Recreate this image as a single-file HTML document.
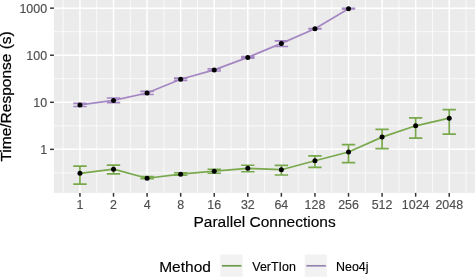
<!DOCTYPE html><html><head><meta charset="utf-8"><style>html,body{margin:0;padding:0;background:#fff;}svg{display:block;filter:blur(0.25px);}text{font-family:"Liberation Sans",sans-serif;stroke-width:0.15px;paint-order:stroke;}</style></head><body>
<svg width="475" height="279" viewBox="0 0 475 279">
<rect x="0" y="0" width="475" height="279" fill="#fff"/>
<rect x="53.9" y="-0.5" width="421.6" height="193.4" fill="#ebebeb"/>
<line x1="63.17" y1="-0.5" x2="63.17" y2="192.9" stroke="#fff" stroke-width="0.74"/>
<line x1="96.73" y1="-0.5" x2="96.73" y2="192.9" stroke="#fff" stroke-width="0.74"/>
<line x1="130.31" y1="-0.5" x2="130.31" y2="192.9" stroke="#fff" stroke-width="0.74"/>
<line x1="163.88" y1="-0.5" x2="163.88" y2="192.9" stroke="#fff" stroke-width="0.74"/>
<line x1="197.44" y1="-0.5" x2="197.44" y2="192.9" stroke="#fff" stroke-width="0.74"/>
<line x1="231.01" y1="-0.5" x2="231.01" y2="192.9" stroke="#fff" stroke-width="0.74"/>
<line x1="264.58" y1="-0.5" x2="264.58" y2="192.9" stroke="#fff" stroke-width="0.74"/>
<line x1="298.16" y1="-0.5" x2="298.16" y2="192.9" stroke="#fff" stroke-width="0.74"/>
<line x1="331.73" y1="-0.5" x2="331.73" y2="192.9" stroke="#fff" stroke-width="0.74"/>
<line x1="365.30" y1="-0.5" x2="365.30" y2="192.9" stroke="#fff" stroke-width="0.74"/>
<line x1="398.87" y1="-0.5" x2="398.87" y2="192.9" stroke="#fff" stroke-width="0.74"/>
<line x1="432.44" y1="-0.5" x2="432.44" y2="192.9" stroke="#fff" stroke-width="0.74"/>
<line x1="466.00" y1="-0.5" x2="466.00" y2="192.9" stroke="#fff" stroke-width="0.74"/>
<line x1="53.9" y1="172.90" x2="475.5" y2="172.90" stroke="#fff" stroke-width="0.74"/>
<line x1="53.9" y1="125.83" x2="475.5" y2="125.83" stroke="#fff" stroke-width="0.74"/>
<line x1="53.9" y1="78.76" x2="475.5" y2="78.76" stroke="#fff" stroke-width="0.74"/>
<line x1="53.9" y1="31.69" x2="475.5" y2="31.69" stroke="#fff" stroke-width="0.74"/>
<line x1="79.95" y1="-0.5" x2="79.95" y2="192.9" stroke="#fff" stroke-width="1.49"/>
<line x1="113.52" y1="-0.5" x2="113.52" y2="192.9" stroke="#fff" stroke-width="1.49"/>
<line x1="147.09" y1="-0.5" x2="147.09" y2="192.9" stroke="#fff" stroke-width="1.49"/>
<line x1="180.66" y1="-0.5" x2="180.66" y2="192.9" stroke="#fff" stroke-width="1.49"/>
<line x1="214.23" y1="-0.5" x2="214.23" y2="192.9" stroke="#fff" stroke-width="1.49"/>
<line x1="247.80" y1="-0.5" x2="247.80" y2="192.9" stroke="#fff" stroke-width="1.49"/>
<line x1="281.37" y1="-0.5" x2="281.37" y2="192.9" stroke="#fff" stroke-width="1.49"/>
<line x1="314.94" y1="-0.5" x2="314.94" y2="192.9" stroke="#fff" stroke-width="1.49"/>
<line x1="348.51" y1="-0.5" x2="348.51" y2="192.9" stroke="#fff" stroke-width="1.49"/>
<line x1="382.08" y1="-0.5" x2="382.08" y2="192.9" stroke="#fff" stroke-width="1.49"/>
<line x1="415.65" y1="-0.5" x2="415.65" y2="192.9" stroke="#fff" stroke-width="1.49"/>
<line x1="449.22" y1="-0.5" x2="449.22" y2="192.9" stroke="#fff" stroke-width="1.49"/>
<line x1="53.9" y1="149.36" x2="475.5" y2="149.36" stroke="#fff" stroke-width="1.49"/>
<line x1="53.9" y1="102.29" x2="475.5" y2="102.29" stroke="#fff" stroke-width="1.49"/>
<line x1="53.9" y1="55.22" x2="475.5" y2="55.22" stroke="#fff" stroke-width="1.49"/>
<line x1="53.9" y1="8.15" x2="475.5" y2="8.15" stroke="#fff" stroke-width="1.49"/>
<polyline points="79.95,173.35 113.52,169.15 147.09,178.25 180.66,174.15 214.23,171.15 247.80,168.35 281.37,169.70 314.94,160.80 348.51,152.00 382.08,137.10 415.65,125.80 449.22,118.20" fill="none" stroke="#79a94c" stroke-width="1.7" stroke-linejoin="round" stroke-linecap="butt"/>
<path d="M73.25,166.05H86.65M79.95,166.05V184.05M73.25,184.05H86.65" fill="none" stroke="#79a94c" stroke-width="1.7"/>
<path d="M106.82,165.15H120.22M113.52,165.15V173.95M106.82,173.95H120.22" fill="none" stroke="#79a94c" stroke-width="1.7"/>
<path d="M140.39,176.65H153.79M147.09,176.65V178.75M140.39,178.75H153.79" fill="none" stroke="#79a94c" stroke-width="1.7"/>
<path d="M173.96,172.75H187.36M180.66,172.75V175.25M173.96,175.25H187.36" fill="none" stroke="#79a94c" stroke-width="1.7"/>
<path d="M207.53,169.25H220.93M214.23,169.25V173.25M207.53,173.25H220.93" fill="none" stroke="#79a94c" stroke-width="1.7"/>
<path d="M241.10,165.25H254.50M247.80,165.25V171.75M241.10,171.75H254.50" fill="none" stroke="#79a94c" stroke-width="1.7"/>
<path d="M274.67,165.30H288.07M281.37,165.30V175.00M274.67,175.00H288.07" fill="none" stroke="#79a94c" stroke-width="1.7"/>
<path d="M308.24,155.80H321.64M314.94,155.80V167.40M308.24,167.40H321.64" fill="none" stroke="#79a94c" stroke-width="1.7"/>
<path d="M341.81,144.60H355.21M348.51,144.60V162.70M341.81,162.70H355.21" fill="none" stroke="#79a94c" stroke-width="1.7"/>
<path d="M375.38,129.40H388.78M382.08,129.40V148.70M375.38,148.70H388.78" fill="none" stroke="#79a94c" stroke-width="1.7"/>
<path d="M408.95,117.80H422.35M415.65,117.80V138.10M408.95,138.10H422.35" fill="none" stroke="#79a94c" stroke-width="1.7"/>
<path d="M442.52,109.60H455.92M449.22,109.60V134.20M442.52,134.20H455.92" fill="none" stroke="#79a94c" stroke-width="1.7"/>
<circle cx="79.95" cy="173.35" r="2.5" fill="#000"/>
<circle cx="113.52" cy="169.15" r="2.5" fill="#000"/>
<circle cx="147.09" cy="178.25" r="2.5" fill="#000"/>
<circle cx="180.66" cy="174.15" r="2.5" fill="#000"/>
<circle cx="214.23" cy="171.15" r="2.5" fill="#000"/>
<circle cx="247.80" cy="168.35" r="2.5" fill="#000"/>
<circle cx="281.37" cy="169.70" r="2.5" fill="#000"/>
<circle cx="314.94" cy="160.80" r="2.5" fill="#000"/>
<circle cx="348.51" cy="152.00" r="2.5" fill="#000"/>
<circle cx="382.08" cy="137.10" r="2.5" fill="#000"/>
<circle cx="415.65" cy="125.80" r="2.5" fill="#000"/>
<circle cx="449.22" cy="118.20" r="2.5" fill="#000"/>
<polyline points="79.95,104.90 113.52,100.40 147.09,93.00 180.66,79.20 214.23,69.90 247.80,57.40 281.37,43.40 314.94,28.80 348.51,8.70" fill="none" stroke="#a487c2" stroke-width="1.7" stroke-linejoin="round" stroke-linecap="butt"/>
<path d="M73.25,103.40H86.65M79.95,103.40V106.50M73.25,106.50H86.65" fill="none" stroke="#a487c2" stroke-width="1.7"/>
<path d="M106.82,98.00H120.22M113.52,98.00V102.70M106.82,102.70H120.22" fill="none" stroke="#a487c2" stroke-width="1.7"/>
<path d="M140.39,91.30H153.79M147.09,91.30V94.50M140.39,94.50H153.79" fill="none" stroke="#a487c2" stroke-width="1.7"/>
<path d="M173.96,78.10H187.36M180.66,78.10V80.30M173.96,80.30H187.36" fill="none" stroke="#a487c2" stroke-width="1.7"/>
<path d="M207.53,68.80H220.93M214.23,68.80V71.00M207.53,71.00H220.93" fill="none" stroke="#a487c2" stroke-width="1.7"/>
<path d="M241.10,56.60H254.50M247.80,56.60V58.20M241.10,58.20H254.50" fill="none" stroke="#a487c2" stroke-width="1.7"/>
<path d="M274.67,40.90H288.07M281.37,40.90V46.50M274.67,46.50H288.07" fill="none" stroke="#a487c2" stroke-width="1.7"/>
<path d="M308.24,28.60H321.64M314.94,28.60V29.00M308.24,29.00H321.64" fill="none" stroke="#a487c2" stroke-width="1.7"/>
<path d="M341.81,8.40H355.21M348.51,8.40V9.00M341.81,9.00H355.21" fill="none" stroke="#a487c2" stroke-width="1.7"/>
<circle cx="79.95" cy="104.90" r="2.5" fill="#000"/>
<circle cx="113.52" cy="100.40" r="2.5" fill="#000"/>
<circle cx="147.09" cy="93.00" r="2.5" fill="#000"/>
<circle cx="180.66" cy="79.20" r="2.5" fill="#000"/>
<circle cx="214.23" cy="69.90" r="2.5" fill="#000"/>
<circle cx="247.80" cy="57.40" r="2.5" fill="#000"/>
<circle cx="281.37" cy="43.40" r="2.5" fill="#000"/>
<circle cx="314.94" cy="28.80" r="2.5" fill="#000"/>
<circle cx="348.51" cy="8.70" r="2.5" fill="#000"/>
<line x1="79.95" y1="192.9" x2="79.95" y2="196.70000000000002" stroke="#333333" stroke-width="1.49"/>
<line x1="113.52" y1="192.9" x2="113.52" y2="196.70000000000002" stroke="#333333" stroke-width="1.49"/>
<line x1="147.09" y1="192.9" x2="147.09" y2="196.70000000000002" stroke="#333333" stroke-width="1.49"/>
<line x1="180.66" y1="192.9" x2="180.66" y2="196.70000000000002" stroke="#333333" stroke-width="1.49"/>
<line x1="214.23" y1="192.9" x2="214.23" y2="196.70000000000002" stroke="#333333" stroke-width="1.49"/>
<line x1="247.80" y1="192.9" x2="247.80" y2="196.70000000000002" stroke="#333333" stroke-width="1.49"/>
<line x1="281.37" y1="192.9" x2="281.37" y2="196.70000000000002" stroke="#333333" stroke-width="1.49"/>
<line x1="314.94" y1="192.9" x2="314.94" y2="196.70000000000002" stroke="#333333" stroke-width="1.49"/>
<line x1="348.51" y1="192.9" x2="348.51" y2="196.70000000000002" stroke="#333333" stroke-width="1.49"/>
<line x1="382.08" y1="192.9" x2="382.08" y2="196.70000000000002" stroke="#333333" stroke-width="1.49"/>
<line x1="415.65" y1="192.9" x2="415.65" y2="196.70000000000002" stroke="#333333" stroke-width="1.49"/>
<line x1="449.22" y1="192.9" x2="449.22" y2="196.70000000000002" stroke="#333333" stroke-width="1.49"/>
<line x1="50.1" y1="149.36" x2="53.9" y2="149.36" stroke="#333333" stroke-width="1.49"/>
<line x1="50.1" y1="102.29" x2="53.9" y2="102.29" stroke="#333333" stroke-width="1.49"/>
<line x1="50.1" y1="55.22" x2="53.9" y2="55.22" stroke="#333333" stroke-width="1.49"/>
<line x1="50.1" y1="8.15" x2="53.9" y2="8.15" stroke="#333333" stroke-width="1.49"/>
<text x="79.95" y="208.8" font-size="12.45" fill="#4d4d4d" stroke="#4d4d4d" text-anchor="middle">1</text>
<text x="113.52" y="208.8" font-size="12.45" fill="#4d4d4d" stroke="#4d4d4d" text-anchor="middle">2</text>
<text x="147.09" y="208.8" font-size="12.45" fill="#4d4d4d" stroke="#4d4d4d" text-anchor="middle">4</text>
<text x="180.66" y="208.8" font-size="12.45" fill="#4d4d4d" stroke="#4d4d4d" text-anchor="middle">8</text>
<text x="214.23" y="208.8" font-size="12.45" fill="#4d4d4d" stroke="#4d4d4d" text-anchor="middle">16</text>
<text x="247.80" y="208.8" font-size="12.45" fill="#4d4d4d" stroke="#4d4d4d" text-anchor="middle">32</text>
<text x="281.37" y="208.8" font-size="12.45" fill="#4d4d4d" stroke="#4d4d4d" text-anchor="middle">64</text>
<text x="314.94" y="208.8" font-size="12.45" fill="#4d4d4d" stroke="#4d4d4d" text-anchor="middle">128</text>
<text x="348.51" y="208.8" font-size="12.45" fill="#4d4d4d" stroke="#4d4d4d" text-anchor="middle">256</text>
<text x="382.08" y="208.8" font-size="12.45" fill="#4d4d4d" stroke="#4d4d4d" text-anchor="middle">512</text>
<text x="415.65" y="208.8" font-size="12.45" fill="#4d4d4d" stroke="#4d4d4d" text-anchor="middle">1024</text>
<text x="449.22" y="208.8" font-size="12.45" fill="#4d4d4d" stroke="#4d4d4d" text-anchor="middle">2048</text>
<text x="47.1" y="154.21" font-size="12.45" fill="#4d4d4d" stroke="#4d4d4d" text-anchor="end">1</text>
<text x="47.1" y="107.14" font-size="12.45" fill="#4d4d4d" stroke="#4d4d4d" text-anchor="end">10</text>
<text x="47.1" y="60.07" font-size="12.45" fill="#4d4d4d" stroke="#4d4d4d" text-anchor="end">100</text>
<text x="47.1" y="13.00" font-size="12.45" fill="#4d4d4d" stroke="#4d4d4d" text-anchor="end">1000</text>
<text x="264.6" y="226.8" font-size="15.5" fill="#000" stroke="#000" text-anchor="middle">Parallel Connections</text>
<text transform="translate(11.3,96.4) rotate(-90)" x="0" y="0" font-size="15.5" fill="#000" stroke="#000" style="stroke-width:0.25px" text-anchor="middle">Time/Response (s)</text>
<text x="159.2" y="271.5" font-size="15.5" fill="#000" stroke="#000">Method</text>
<rect x="220.3" y="254.5" width="22.2" height="22.2" fill="#f2f2f2"/>
<line x1="221.90" y1="265.8" x2="241.50" y2="265.8" stroke="#6e9b49" stroke-width="1.7"/>
<rect x="304.7" y="254.5" width="22.2" height="22.2" fill="#f2f2f2"/>
<line x1="306.30" y1="265.8" x2="325.90" y2="265.8" stroke="#9585b0" stroke-width="1.7"/>
<text x="252.3" y="270.9" font-size="12.45" fill="#000" stroke="#000">VerTIon</text>
<text x="336.0" y="270.9" font-size="12.45" fill="#000" stroke="#000">Neo4j</text>
</svg></body></html>
